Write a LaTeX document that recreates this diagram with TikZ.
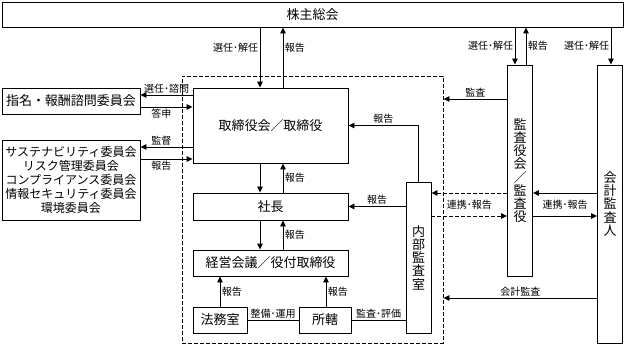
\documentclass[tikz,border=0pt]{standalone}
\usepackage{fontspec}
\setmainfont{Noto Sans CJK JP}
\usetikzlibrary{arrows.meta}
\tikzset{
  box/.style={draw,line width=0.9pt,inner sep=0pt,align=center,font=\fontsize{13}{13.2}\selectfont},
  vbox/.style={box,minimum width=25pt},
  grpbox/.style={draw,line width=0.9pt,dash pattern=on 4pt off 2pt},
  arr/.style={line width=0.9pt,-{Triangle[length=6pt,width=5.5pt]}},
  darr/.style={arr,dash pattern=on 4pt off 2pt},
  lbl/.style={font=\fontsize{10}{11}\selectfont,inner sep=1.5pt},
}

\begin{document}
\begin{tikzpicture}[x=1pt,y=-1pt]
  \useasboundingbox (0,0) rectangle (625,345);
  \node[grpbox,minimum width=261pt,minimum height=267pt] (grp) at (312.5,209.5) {};
  \node[box,minimum width=621pt,minimum height=25pt] (soukai) at (312.5,14.5) {株主総会};
  \node[box,minimum width=155pt,minimum height=75pt] (board) at (270.5,125.5) {取締役会／取締役};
  \node[box,minimum width=138pt,minimum height=26pt] (nomi) at (71,101) {指名・報酬諮問委員会};
  \node[box,minimum width=138pt,minimum height=80pt,font=\fontsize{12}{14.2}\selectfont] (cmte) at (71,180)
    {サステナビリティ委員会\\リスク管理委員会\\コンプライアンス委員会\\情報セキュリティ委員会\\環境委員会};
  \node[box,minimum width=155pt,minimum height=27pt] (pres) at (270.5,206.5) {社長};
  \node[box,minimum width=155pt,minimum height=26pt] (mgmt) at (270.5,263) {経営会議／役付取締役};
  \node[box,minimum width=54pt,minimum height=26pt] (legal) at (220,320) {法務室};
  \node[box,minimum width=52pt,minimum height=26pt] (dept) at (325,320) {所轄};
  \node[vbox,minimum height=151pt] (audit) at (418.5,257.5) {内\\部\\監\\査\\室};
  \node[vbox,minimum height=211pt] (kansa) at (520,170.5) {監\\査\\役\\会\\／\\監\\査\\役};
  \node[vbox,minimum height=278pt] (acct) at (610,204) {会\\計\\監\\査\\人};

  \coordinate (xa) at (260,0);
  \coordinate (xb) at (283,0);
  \coordinate (xc) at (220,0);
  \coordinate (xd) at (326,0);
  \coordinate (xe) at (515,0);
  \coordinate (xf) at (526,0);
  \coordinate (xg) at (611,0);
  \coordinate (ya) at (0,95);
  \coordinate (yb) at (0,107);
  \coordinate (yc) at (0,147);
  \coordinate (yd) at (0,159);
  \coordinate (ye) at (0,99);
  \coordinate (yf) at (0,193);
  \coordinate (yg) at (0,216);
  \coordinate (yh) at (0,298);

  \draw[arr] (soukai.south -| xa) -- (board.north -| xa) node[lbl,pos=0.33,left] {選任･解任};
  \draw[arr] (board.north -| xb) -- (soukai.south -| xb) node[lbl,pos=0.67,right] {報告};
  \draw[arr] (board.south -| xa) -- (pres.north -| xa);
  \draw[arr] (pres.north -| xb) -- (board.south -| xb) node[lbl,midway,right] {報告};
  \draw[arr] (pres.south -| xa) -- (mgmt.north -| xa);
  \draw[arr] (mgmt.north -| xb) -- (pres.south -| xb) node[lbl,midway,right] {報告};
  \draw[arr] (legal.north -| xc) -- (mgmt.south -| xc) node[lbl,midway,right] {報告};
  \draw[arr] (dept.north -| xd) -- (mgmt.south -| xd) node[lbl,midway,right] {報告};
  \draw[line width=0.9pt] (legal.east) -- (dept.west) node[lbl,midway,above] {整備･運用};
  \draw[line width=0.9pt] (dept.east) -- (dept.east -| audit.west) node[lbl,midway,above] {監査･評価};
  \draw[arr] (audit.north) |- (board.east) node[lbl,pos=0.75,above] {報告};
  \draw[arr] (audit.west |- pres.east) -- (pres.east) node[lbl,midway,above] {報告};

  \draw[arr] (board.west |- ya) -- (nomi.east |- ya) node[lbl,midway,above] {選任･諮問};
  \draw[arr] (nomi.east |- yb) -- (board.west |- yb) node[lbl,pos=0.4,below] {答申};
  \draw[arr] (board.west |- yc) -- (cmte.east |- yc) node[lbl,pos=0.6,above] {監督};
  \draw[arr] (cmte.east |- yd) -- (board.west |- yd) node[lbl,pos=0.4,below] {報告};

  \draw[arr] (soukai.south -| xe) -- (kansa.north -| xe) node[lbl,midway,left] {選任･解任};
  \draw[arr] (kansa.north -| xf) -- (soukai.south -| xf) node[lbl,midway,right] {報告};
  \draw[arr] (soukai.south -| xg) -- (acct.north -| xg) node[lbl,midway,left] {選任･解任};
  \draw[arr] (kansa.west |- ye) -- (grp.east |- ye) node[lbl,midway,above] {監査};
  \draw[darr] (kansa.west |- yf) -- (audit.east |- yf) node[lbl,midway,yshift=-11.5pt] {連携･報告};
  \draw[darr] (audit.east |- yg) -- (kansa.west |- yg);
  \draw[arr] (acct.west |- yf) -- (kansa.east |- yf) node[lbl,midway,yshift=-11.5pt] {連携･報告};
  \draw[arr] (kansa.east |- yg) -- (acct.west |- yg);
  \draw[arr] (acct.west |- yh) -- (grp.east |- yh) node[lbl,midway,above] {会計監査};
\end{tikzpicture}
\end{document}
